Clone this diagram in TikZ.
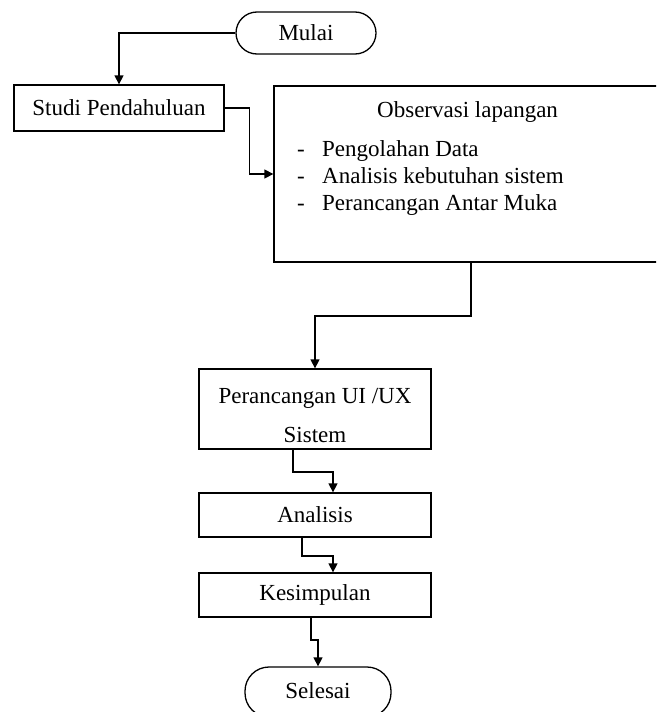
\documentclass[tikz,border=0pt]{standalone}
\usepackage{fontspec}
\setmainfont{Liberation Serif}
\usetikzlibrary{arrows.meta}
\begin{document}
\begin{tikzpicture}[x=1pt,y=-1pt,
  every node/.style={font=\fontsize{23}{27}\selectfont, inner sep=0pt},
  box/.style={draw, line width=1.3pt, rectangle},
  term/.style={draw, line width=1.3pt, rectangle, rounded corners=21pt},
  txt/.style={anchor=base west},
  arr/.style={line width=1.3pt, -{Triangle[length=9pt,width=9pt]}},
  ln/.style={line width=1.3pt}]
\useasboundingbox (0,0) rectangle (656,712);
\clip (0,0) rectangle (656,712);
% nodes
\node[term, minimum width=140pt, minimum height=42pt] (mulai) at (306,33) {Mulai};
\node[box, minimum width=210pt, minimum height=46pt] (studi) at (119,108) {Studi Pendahuluan};
\node[box, minimum width=440pt, minimum height=176pt] (obs) at (494,174) {};
\node[txt] (obst) at (377,117) {Observasi lapangan};
\node[txt] (d1) at (297,156) {-};
\node[txt] (l1) at (322,156) {Pengolahan Data};
\node[txt] (d2) at (297,183) {-};
\node[txt] (l2) at (322,183) {Analisis kebutuhan sistem};
\node[txt] (d3) at (297,210) {-};
\node[txt] (l3) at (322,210) {Perancangan Antar Muka};
\node[box, minimum width=232pt, minimum height=80pt, align=center,
      font=\fontsize{23}{39}\selectfont] (ui) at (315,409) {\rule{0pt}{28pt}Perancangan UI /UX\\Sistem};
\node[box, minimum width=232pt, minimum height=44pt] (ana) at (315,515) {Analisis};
\node[box, minimum width=232pt, minimum height=44pt] (kes) at (315,595) {Kesimpulan};
\node[term, minimum width=146pt, minimum height=50pt, rounded corners=24pt] (sel) at (318,692) {\raisebox{2pt}{Selesai}};
% connectors
\draw[arr] (mulai.west) -| (studi.north);
\draw[arr] (studi.east) -- ++(25,0) |- (obs.west);
\coordinate (o1) at (obs.south -| 471,0);
\draw[arr] (o1) -- (471,316) -| (ui.north);
\coordinate (u1) at (ui.south -| 293,0);
\coordinate (a1) at (ana.north -| 333,0);
\draw[arr] (u1) -- (293,472) -| (a1);
\coordinate (a2) at (ana.south -| 302,0);
\coordinate (k1) at (kes.north -| 333,0);
\draw[arr] (a2) -- (302,556) -| (k1);
\coordinate (k2) at (kes.south -| 311,0);
\draw[arr] (k2) -- (311,640) -| (sel.north);
\end{tikzpicture}
\end{document}
